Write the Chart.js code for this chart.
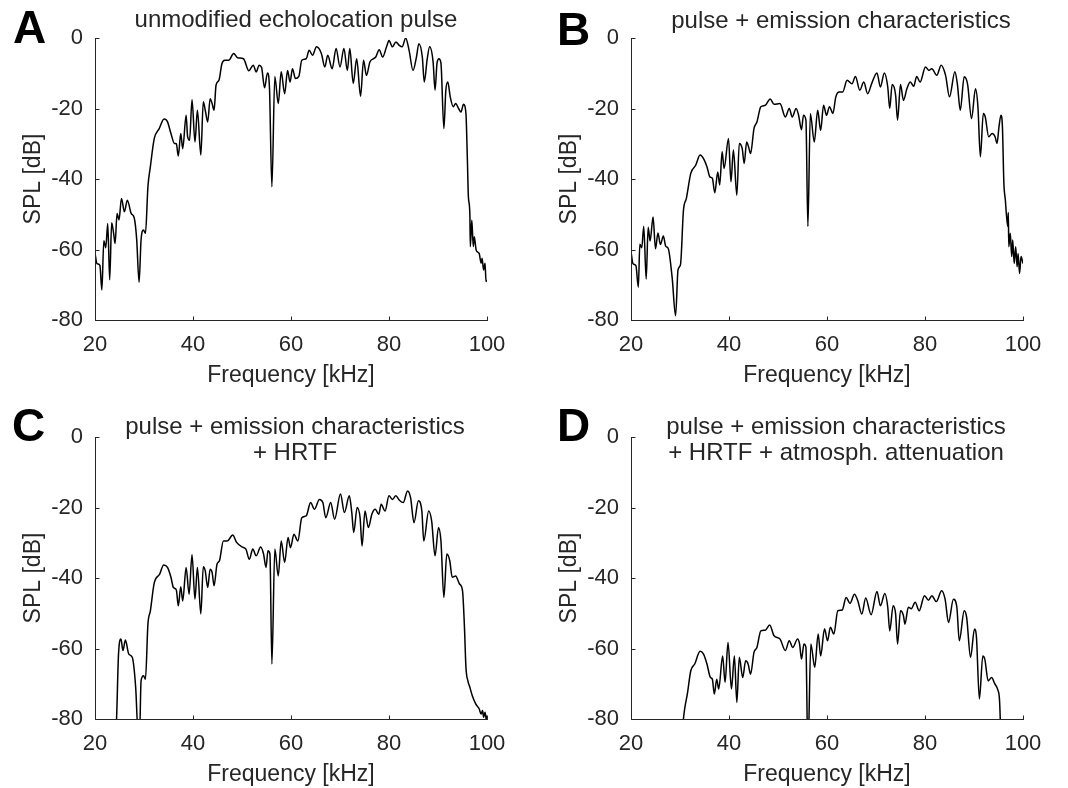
<!DOCTYPE html>
<html>
<head>
<meta charset="utf-8">
<script src="https://cdn.jsdelivr.net/npm/chart.js@4.4.1/dist/chart.umd.min.js"></script>
<style>
  body { margin: 0; background: #fff; width: 1068px; height: 788px; overflow: hidden; position: relative;
         font-family: "Liberation Sans", Arial, Helvetica, sans-serif; }
  .panel { position: absolute; width: 532px; height: 389px; }
  .letter { position: absolute; font-weight: bold; font-size: 46px; line-height: 46px; color: #000; }
  .title { position: absolute; font-size: 24px; line-height: 26px; color: #262626; text-align: center;
           white-space: nowrap; transform: translateX(-50%); }
</style>
</head>
<body>

<div class="panel" style="left:0;top:0"><canvas id="chartA" width="532" height="389"></canvas></div>
<div class="panel" style="left:536px;top:0"><canvas id="chartB" width="532" height="389"></canvas></div>
<div class="panel" style="left:0;top:399px"><canvas id="chartC" width="532" height="389"></canvas></div>
<div class="panel" style="left:536px;top:399px"><canvas id="chartD" width="532" height="389"></canvas></div>

<div class="letter" style="left:13px;top:4px">A</div>
<div class="letter" style="left:557px;top:6px">B</div>
<div class="letter" style="left:12px;top:402px">C</div>
<div class="letter" style="left:557px;top:402px">D</div>

<div class="title" style="left:296px;top:6px">unmodified echolocation pulse</div>
<div class="title" style="left:841px;top:7px">pulse + emission characteristics</div>
<div class="title" style="left:295px;top:413px">pulse + emission characteristics<br>+ HRTF</div>
<div class="title" style="left:836px;top:413px">pulse + emission characteristics<br>+ HRTF + atmosph. attenuation</div>

<script>
// axis ticks (same for all four panels)
const xTicks = [20, 40, 60, 80, 100];
const yTicks = [-80, -60, -40, -20, 0];

// A: unmodified echolocation pulse
const freqA = [20.0, 20.4, 21.0, 21.4, 21.8, 22.2, 22.6, 23.0, 23.4, 23.8, 24.1, 24.5, 24.9, 25.4, 26.0, 26.6, 27.4, 28.0, 28.5, 29.0,
  29.4, 29.9, 30.3, 30.8, 31.3, 32.1, 33.1, 34.1, 34.8, 35.5, 36.2, 36.6, 37.0, 37.5, 37.9, 38.6, 38.9, 39.3, 39.8, 40.4,
  40.9, 41.6, 42.1, 42.5, 43.0, 43.5, 43.9, 44.3, 44.7, 45.3, 45.9, 46.5, 47.3, 48.3, 49.1, 50.3, 51.4, 52.3, 52.9, 53.5,
  54.0, 54.6, 55.2, 55.6, 56.1, 56.7, 57.4, 58.0, 58.7, 59.3, 59.8, 60.3, 60.9, 61.6, 62.2, 63.1, 63.7, 64.4, 65.2, 66.2,
  66.9, 67.5, 68.4, 69.2, 70.0, 70.8, 71.5, 72.0, 72.7, 73.4, 74.2, 74.8, 75.4, 76.1, 76.8, 77.3, 78.0, 78.7, 79.5, 80.0,
  80.7, 81.4, 82.1, 82.7, 83.4, 84.1, 84.9, 85.6, 86.1, 86.8, 87.2, 87.8, 88.3, 89.0, 89.4, 89.8, 90.2, 90.6, 91.2, 91.6,
  92.0, 92.5, 93.1, 93.6, 94.2, 94.7, 95.2, 95.7, 96.0, 96.2, 96.5, 96.6, 96.9, 97.2, 97.4, 97.8, 98.4, 98.8, 99.0, 99.3,
  99.6, 99.8, 100.0];
const splA = [-61, -64, -64.5, -71.5, -57.5, -59.5, -52.6, -68.6, -52.4, -55.4, -58.3, -49.8, -51.6, -45.5, -49.3, -46, -49.8, -51, -57, -69.3,
  -57.3, -54.5, -55.4, -42.2, -36.5, -28.5, -25.7, -23, -23.8, -27.1, -29.9, -30, -33.5, -27.1, -31.4, -21.9, -28, -29, -17.5, -29.5,
  -20.5, -33.2, -18.1, -20.5, -23.8, -17.2, -18.6, -20.5, -13.4, -12, -7.3, -6.3, -6.3, -4.4, -5.6, -5.9, -9.3, -7.7, -9.6, -7.7,
  -8.4, -14.1, -9.9, -13.9, -42.2, -10.9, -18.6, -9.6, -15.8, -9.2, -12.5, -8.7, -11.5, -10.9, -6.3, -5.9, -3.5, -4.9, -2.5, -4.4,
  -8.2, -4.9, -8.7, -3, -8.2, -3, -9.2, -3, -12.9, -5.9, -16.5, -6.3, -10.6, -6.8, -5.9, -5.4, -3.3, -5.4, -2.5, -0.7,
  -2.5, -1.1, -2.1, -2.5, 0, -3.5, -9.2, -5.4, -1.6, -5.4, -12.5, -5.9, -2.5, -6.8, -14.8, -7.1, -5.9, -7.1, -25.7, -14.8,
  -12.5, -16.7, -19.5, -18.6, -20, -21, -18.8, -21.4, -34.7, -45, -49.8, -59.2, -51.6, -59.2, -56.4, -60.2, -61.1, -63.9, -62.5, -65.8,
  -63.9, -69.1, -68.6];

// B: pulse + emission characteristics
const freqB = [20.0, 20.4, 21.0, 21.5, 21.8, 22.2, 22.6, 23.1, 23.5, 23.9, 24.5, 25.0, 25.5, 26.0, 26.6, 27.1, 27.6, 28.4, 29.1, 29.6,
  30.1, 30.7, 31.3, 32.2, 33.2, 34.1, 34.8, 35.5, 36.1, 36.6, 37.1, 37.7, 38.1, 38.6, 39.0, 39.9, 40.4, 40.9, 41.6, 42.1,
  42.7, 43.1, 43.6, 44.0, 44.4, 45.1, 45.7, 46.5, 47.4, 48.4, 49.2, 50.4, 51.5, 52.3, 52.9, 53.7, 54.2, 54.8, 55.2, 55.7,
  56.1, 56.6, 57.4, 58.1, 58.7, 59.3, 59.9, 60.5, 61.2, 61.8, 62.5, 63.2, 64.1, 65.1, 65.8, 66.7, 67.5, 68.3, 69.1, 70.2,
  70.9, 71.7, 72.4, 72.8, 73.3, 74.0, 74.4, 75.0, 75.6, 76.3, 77.0, 77.7, 78.3, 79.0, 80.1, 80.8, 81.4, 82.4, 83.3, 84.2,
  85.0, 86.1, 86.6, 87.2, 88.0, 88.7, 89.5, 90.3, 90.8, 91.3, 91.9, 92.3, 93.0, 93.7, 94.3, 94.7, 95.1, 95.5, 95.8, 96.1,
  96.4, 96.6, 96.9, 97.0, 97.1, 97.4, 97.7, 97.9, 98.2, 98.5, 98.8, 99.0, 99.3, 99.6, 100.0];
const splB = [-60.5, -64, -64.6, -70.7, -58.5, -59.5, -53.4, -68.4, -53.7, -57.6, -50.8, -59.8, -55.3, -58.6, -56.2, -59.1, -59.7, -68, -78.8, -65.7,
  -64.3, -49, -45.5, -38.4, -36.1, -33.2, -34.2, -36.5, -39.4, -39.8, -43.9, -38, -41.7, -32.3, -37, -28.5, -40.8, -31.8, -44.6, -29.9,
  -31.4, -35.6, -29.5, -30.9, -32.8, -25.7, -23.8, -19.5, -19.1, -17.3, -18.8, -18.6, -22.4, -20, -22.4, -20, -21.9, -26, -21.9, -23.3,
  -53.5, -21.4, -29.5, -20.5, -26.2, -19.1, -21.9, -19.5, -21.4, -16.7, -15.3, -15.3, -12, -13, -10.9, -14.8, -12.5, -15.8, -13, -9.9,
  -13.9, -9.9, -13.9, -20, -13.2, -16.2, -23.3, -13.2, -17.7, -14.4, -12.5, -13.7, -10.9, -12.5, -8.2, -9.2, -8.7, -10.6, -7.7, -10.6,
  -16.7, -9.6, -13, -20.5, -11, -13.2, -22.9, -14.4, -19.5, -33.7, -21.4, -22.4, -28, -27.1, -28, -29.9, -25.2, -21.9, -25.2, -41.3,
  -46, -49.8, -53.5, -49.5, -59.2, -55.4, -62, -57.3, -64, -59.2, -64.9, -61.1, -66.8, -62, -64];

// C: pulse + emission characteristics + HRTF
const freqC = [24.0, 24.4, 24.8, 25.3, 25.7, 26.2, 26.9, 27.6, 28.3, 28.8, 29.1, 29.4, 29.9, 30.3, 30.8, 31.3, 32.1, 33.2, 34.0, 34.8,
  35.5, 36.0, 36.6, 37.0, 37.5, 37.9, 38.6, 39.2, 39.8, 40.4, 40.9, 41.6, 42.1, 42.5, 43.0, 43.5, 43.9, 44.3, 44.9, 45.4,
  46.2, 47.0, 48.1, 48.9, 50.0, 50.8, 51.5, 52.2, 52.9, 53.8, 54.4, 54.9, 55.3, 55.7, 56.1, 56.7, 57.4, 58.0, 58.7, 59.4,
  59.9, 60.6, 61.4, 62.2, 63.1, 64.0, 64.8, 65.8, 66.5, 67.1, 68.1, 68.9, 70.1, 70.9, 71.9, 72.4, 72.8, 73.5, 74.1, 74.5,
  75.1, 75.8, 76.5, 77.2, 77.9, 78.4, 79.2, 80.0, 80.7, 81.4, 82.1, 82.9, 83.8, 84.4, 85.1, 86.0, 86.7, 87.1, 88.1, 88.7,
  89.4, 90.1, 90.6, 91.2, 91.8, 92.4, 92.9, 93.6, 94.4, 95.0, 95.4, 95.7, 96.1, 96.5, 97.0, 97.7, 98.4, 98.8, 99.1, 99.3,
  99.6, 99.9, 100.0];
const splC = [-90, -80, -61.6, -57.3, -60.6, -57.6, -61.6, -62.5, -71, -84, -84, -69.2, -67.7, -68.7, -53.1, -49.3, -41.3, -38.9, -36.3, -37,
  -39.8, -42.7, -43.4, -47.9, -42.5, -46.5, -37, -44.6, -33.4, -46, -37, -50.2, -36.8, -38, -42.7, -37.5, -38.4, -42.2, -36.1, -35.1,
  -29.5, -29.5, -27.8, -29.9, -31.2, -31.8, -34.7, -31.8, -33.7, -31.2, -33.2, -37, -32.3, -33.2, -64.4, -31.8, -39.4, -29.5, -35.6, -28.5,
  -31.4, -27.6, -29.5, -22.9, -22.4, -18.6, -20.5, -17.7, -18.6, -22.9, -18.6, -23.3, -16.2, -21.4, -16.7, -21.4, -27.1, -20, -22.9, -30.9,
  -21, -25.7, -21.9, -20.5, -21.9, -19.1, -21, -16.7, -17.7, -16.7, -17.9, -18.6, -15.3, -17.2, -24.3, -18.1, -21, -29.5, -21, -23.8,
  -33.7, -25.7, -29.5, -45.5, -33.2, -35.1, -39.8, -39.4, -41.7, -43.6, -54, -65.3, -69.2, -71, -73.4, -75.7, -77.1, -78.6, -77.6, -79.5,
  -78.1, -80.5, -79];

// D: pulse + emission characteristics + HRTF + atmospheric attenuation
const freqD = [30.5, 30.7, 31.0, 31.5, 32.2, 33.0, 34.1, 34.8, 35.5, 36.2, 36.6, 37.0, 37.5, 37.9, 38.7, 39.2, 39.8, 40.5, 41.1, 41.6,
  42.1, 42.8, 43.4, 43.9, 44.4, 45.1, 45.7, 46.5, 47.4, 48.3, 49.2, 50.4, 51.5, 52.3, 53.0, 54.0, 54.4, 54.8, 55.3, 55.7,
  56.1, 56.7, 57.5, 58.2, 58.7, 59.5, 60.1, 60.7, 61.4, 62.2, 63.1, 63.9, 64.7, 65.6, 66.3, 67.1, 67.9, 69.0, 70.2, 70.9,
  71.8, 72.4, 72.8, 73.5, 74.0, 74.4, 75.0, 75.6, 75.9, 76.6, 77.2, 78.0, 78.8, 79.9, 80.7, 81.4, 82.3, 83.4, 84.1, 84.8,
  85.8, 86.5, 87.0, 88.0, 88.5, 89.3, 90.1, 90.5, 91.1, 91.8, 92.2, 92.9, 93.6, 94.2, 94.9, 95.2, 95.4, 95.6];
const splD = [-84, -80, -76.7, -72.9, -66.3, -64.4, -60.8, -61.6, -64.4, -68.2, -68.7, -72.9, -68.7, -71.5, -62.1, -69.6, -58.3, -71.5, -62.1, -75.3,
  -62.5, -68.2, -63.5, -64.4, -67.3, -61.1, -59.7, -55, -54.8, -53.3, -56.4, -57.3, -60.6, -57.8, -59.7, -57.3, -58.7, -63, -58.7, -59.7,
  -90, -58.7, -65.3, -55.9, -62.1, -54.4, -57.8, -54, -55.9, -49.3, -49.1, -45.5, -47.2, -44.6, -46.5, -50.2, -45.7, -50.4, -43.8, -47.9,
  -44.4, -48.3, -55, -47.9, -50.2, -58.7, -49.3, -50.7, -53.1, -48.3, -48.7, -46.9, -49.3, -45, -46.3, -45, -46.7, -43.6, -46, -52.6,
  -46, -48.3, -57.8, -49.3, -51.2, -62.5, -54.5, -56.8, -74.3, -62.1, -63, -69.2, -68.2, -69.9, -71.9, -74.5, -82, -95];

const textColor = '#262626';
const fontFamily = '"Liberation Sans", Arial, Helvetica, sans-serif';

Chart.defaults.font.family = fontFamily;
Chart.defaults.color = textColor;

// matlab style: left + bottom axis lines with ticks pointing inward
const matlabAxes = {
  id: 'matlabAxes',
  afterDatasetsDraw(chart) {
    const { ctx, chartArea: a, scales: { x, y } } = chart;
    ctx.save();
    ctx.strokeStyle = textColor;
    ctx.lineWidth = 1;
    ctx.beginPath();
    const l = Math.round(a.left) + 0.5;
    const b = Math.round(a.bottom) + 0.5;
    ctx.moveTo(l, Math.round(a.top));
    ctx.lineTo(l, b);
    ctx.lineTo(Math.round(a.right) + 1, b);
    x.ticks.forEach(t => {
      const px = Math.round(x.getPixelForValue(t.value)) + 0.5;
      ctx.moveTo(px, b);
      ctx.lineTo(px, b - 4);
    });
    y.ticks.forEach(t => {
      const py = Math.round(y.getPixelForValue(t.value)) + 0.5;
      ctx.moveTo(l, py);
      ctx.lineTo(l + 4, py);
    });
    ctx.stroke();
    ctx.restore();
  }
};

function makePanel(id, freq, spl) {
  const points = freq.map((f, i) => ({ x: f, y: spl[i] }));
  return new Chart(document.getElementById(id), {
    type: 'line',
    data: {
      datasets: [{
        data: points,
        borderColor: '#000',
        borderWidth: 1.5,
        pointRadius: 0,
        fill: false,
        cubicInterpolationMode: 'monotone'
      }]
    },
    options: {
      responsive: false,
      animation: false,
      devicePixelRatio: 1,
      layout: { padding: { left: 0, top: 38, right: 45, bottom: 0 } },
      plugins: { legend: { display: false }, tooltip: { enabled: false } },
      scales: {
        x: {
          type: 'linear',
          min: xTicks[0],
          max: xTicks[xTicks.length - 1],
          afterBuildTicks: s => { s.ticks = xTicks.map(v => ({ value: v })); },
          afterFit: s => { s.height = 69; },
          ticks: { padding: 12, color: textColor, font: { size: 22 }, maxRotation: 0 },
          grid: { display: false, drawTicks: false },
          border: { display: false },
          title: { display: true, text: 'Frequency [kHz]', color: textColor, font: { size: 23 },
                   padding: { top: 0, bottom: 0 } }
        },
        y: {
          min: yTicks[0],
          max: yTicks[yTicks.length - 1],
          afterBuildTicks: s => { s.ticks = yTicks.map(v => ({ value: v })); },
          afterFit: s => { s.width = 95; },
          ticks: { padding: 12, color: textColor, font: { size: 22 } },
          grid: { display: false, drawTicks: false },
          border: { display: false },
          title: { display: true, text: 'SPL [dB]', color: textColor, font: { size: 23 },
                   padding: { top: 20, bottom: 0 } }
        }
      }
    },
    plugins: [matlabAxes]
  });
}

makePanel('chartA', freqA, splA);
makePanel('chartB', freqB, splB);
makePanel('chartC', freqC, splC);
makePanel('chartD', freqD, splD);
</script>
</body>
</html>
